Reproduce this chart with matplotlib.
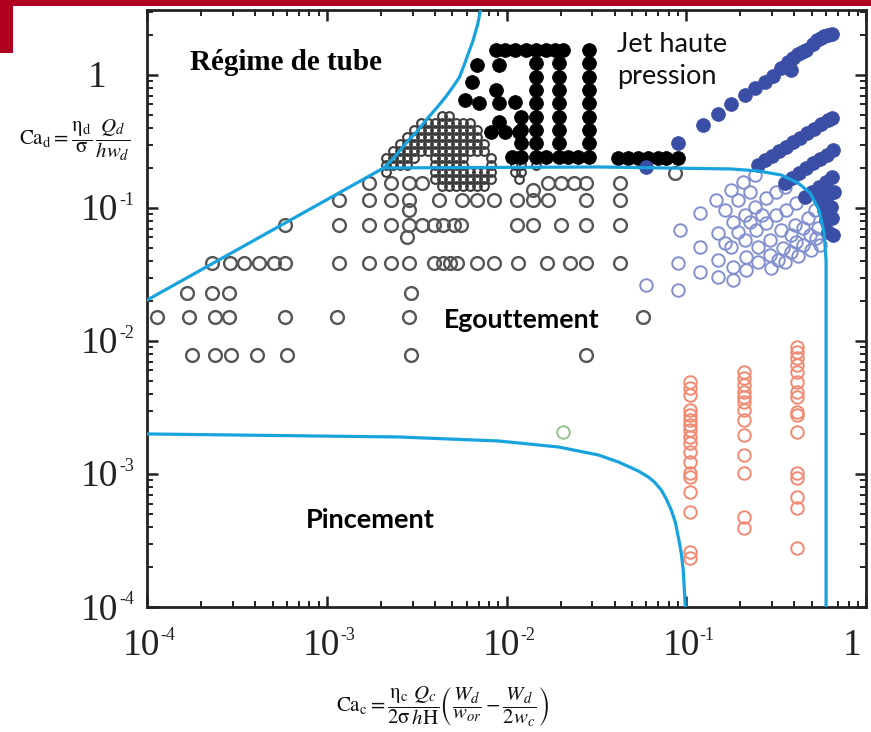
import matplotlib
matplotlib.use("Agg")
import matplotlib.pyplot as plt
from matplotlib.patches import Rectangle
from matplotlib.ticker import LogLocator, NullFormatter

plt.rcParams['mathtext.fontset'] = 'stix'

# ---------------- data ----------------
# Egouttement (dripping) - grey open circles, per row
drip_row_y = [0.154, 0.136, 0.115, 0.0966, 0.0745, 0.0605, 0.0386, 0.023, 0.0151, 0.00785, 0.1833]
drip_row_x = [
    [1.71e-3, 2.27e-3, 2.86e-3, 3.37e-3, 1.71e-2, 2.0e-2, 2.36e-2, 2.78e-2, 4.3e-2],
    [1.41e-2],
    [1.17e-3, 1.71e-3, 2.27e-3, 2.86e-3, 4.19e-3, 5.62e-3, 6.81e-3, 8.47e-3, 1.14e-2, 1.41e-2, 1.71e-2, 2.78e-2, 4.3e-2],
    [2.86e-3],
    [5.85e-4, 1.17e-3, 1.71e-3, 2.27e-3, 2.86e-3, 3.37e-3, 3.93e-3, 4.45e-3, 5.1e-3, 5.6e-3, 1.14e-2, 1.41e-2, 2.0e-2, 2.78e-2, 4.3e-2],
    [2.8e-3],
    [2.3e-4, 2.9e-4, 3.46e-4, 4.19e-4, 5.08e-4, 5.85e-4, 1.17e-3, 1.71e-3, 2.27e-3, 2.86e-3, 3.93e-3, 4.45e-3, 4.85e-3, 5.3e-3, 6.81e-3, 8.47e-3, 1.16e-2, 1.69e-2, 2.27e-2, 2.78e-2, 4.3e-2],
    [1.67e-4, 2.3e-4, 2.86e-4, 2.93e-3],
    [1.14e-4, 1.71e-4, 2.39e-4, 2.86e-4, 5.85e-4, 1.14e-3, 2.86e-3, 5.77e-2],
    [1.78e-4, 2.39e-4, 2.93e-4, 4.08e-4, 6.0e-4, 2.93e-3, 2.78e-2],
    [8.69e-2],
]

# dense overlapping open circles (transition cluster), per row
dense_row_y = [0.492, 0.435, 0.385, 0.342, 0.303, 0.268, 0.238, 0.210, 0.187, 0.165, 0.146]
dense_row_x = [
    [4.35e-3, 4.76e-3],
    [3.33e-3, 3.64e-3, 3.98e-3, 4.35e-3, 4.76e-3, 5.21e-3, 5.70e-3, 6.23e-3],
    [3.04e-3, 3.33e-3, 3.64e-3, 3.98e-3, 4.35e-3, 4.76e-3, 5.21e-3, 5.70e-3, 6.23e-3, 6.81e-3],
    [2.78e-3, 3.04e-3, 3.33e-3, 3.64e-3, 3.98e-3, 4.35e-3, 4.76e-3, 5.21e-3, 5.70e-3, 6.23e-3, 6.81e-3],
    [2.55e-3, 2.78e-3, 3.04e-3, 3.33e-3, 3.64e-3, 3.98e-3, 4.35e-3, 4.76e-3, 5.21e-3, 5.70e-3, 6.23e-3, 6.81e-3, 7.45e-3],
    [2.33e-3, 2.55e-3, 2.78e-3, 3.04e-3, 3.33e-3, 3.64e-3, 3.98e-3, 4.35e-3, 4.76e-3, 5.21e-3, 5.70e-3, 6.23e-3, 6.81e-3, 7.45e-3],
    [2.13e-3, 2.33e-3, 2.55e-3, 2.78e-3, 3.04e-3, 3.98e-3, 4.35e-3, 4.76e-3, 5.21e-3, 5.70e-3, 8.15e-3, 1.12e-2, 1.21e-2],
    [2.13e-3, 2.33e-3, 2.55e-3, 2.78e-3, 3.98e-3, 4.35e-3, 4.76e-3, 5.21e-3, 5.70e-3, 8.15e-3, 1.12e-2, 1.21e-2, 1.45e-2],
    [2.13e-3, 3.98e-3, 4.35e-3, 4.76e-3, 5.21e-3, 5.70e-3, 6.23e-3, 6.81e-3, 7.45e-3, 8.15e-3, 1.12e-2, 1.21e-2],
    [3.98e-3, 4.35e-3, 4.76e-3, 5.21e-3, 5.70e-3, 6.23e-3, 6.81e-3, 7.45e-3, 8.15e-3, 1.17e-2],
    [4.35e-3, 4.76e-3, 5.21e-3, 5.70e-3, 6.23e-3, 6.81e-3, 7.45e-3],
]

# Jet (black filled circles)
jet_black_x = [8.69e-3, 9.87e-3, 1.12e-2, 1.28e-2, 1.45e-2, 1.65e-2, 1.87e-2, 2.07e-2, 2.86e-2,
               1.45e-2, 1.45e-2, 1.45e-2, 1.45e-2, 1.45e-2, 1.45e-2, 1.45e-2,
               1.95e-2, 1.95e-2, 1.95e-2, 1.95e-2, 1.95e-2, 1.95e-2, 1.95e-2,
               2.86e-2, 2.86e-2, 2.86e-2, 2.86e-2, 2.86e-2, 2.86e-2, 2.86e-2,
               1.21e-2, 1.21e-2, 1.21e-2,
               6.81e-3, 6.39e-3, 5.84e-3, 6.99e-3, 8.69e-3, 9.03e-3, 9.03e-3, 1.12e-2, 9.03e-3, 8.25e-3, 9.87e-3, 1.17e-2,
               1.07e-2, 1.21e-2, 1.45e-2, 1.65e-2, 1.95e-2, 2.21e-2, 2.51e-2, 2.86e-2,
               4.19e-2, 4.77e-2, 5.41e-2, 6.15e-2, 6.99e-2, 7.74e-2, 9.03e-2]
jet_black_y = [1.54, 1.54, 1.54, 1.54, 1.54, 1.54, 1.54, 1.54, 1.54,
               1.23, 0.966, 0.771, 0.615, 0.483, 0.385, 0.308,
               1.23, 0.966, 0.771, 0.615, 0.483, 0.385, 0.308,
               1.23, 0.966, 0.771, 0.615, 0.483, 0.385, 0.308,
               0.483, 0.385, 0.308,
               1.19, 0.885, 0.649, 0.615, 0.771, 0.615, 1.19, 0.627, 0.443, 0.373, 0.373, 0.373,
               0.241, 0.241, 0.241, 0.241, 0.241, 0.241, 0.241, 0.241,
               0.238, 0.238, 0.238, 0.238, 0.238, 0.238, 0.238]

# Jet (blue filled circles)
jet_blue_x = [0.0599, 0.0903, 0.1243, 0.1506, 0.1778, 0.2127, 0.2417, 0.2748, 0.3044, 0.3371, 0.3831,
              0.3686, 0.393, 0.419, 0.441, 0.4642, 0.5076, 0.534, 0.5623, 0.5843, 0.615, 0.6473,
              0.2512, 0.2748, 0.3005, 0.3286, 0.3594, 0.393, 0.4299, 0.4701, 0.5142, 0.5623, 0.615, 0.6473,
              0.3548, 0.388, 0.4244, 0.4642, 0.5076, 0.5553, 0.6072, 0.6556,
              0.4583, 0.5012, 0.5482, 0.5995, 0.6473,
              0.5553, 0.615, 0.6641, 0.5843, 0.6391, 0.5995, 0.6473, 0.615, 0.6556]
jet_blue_y = [0.2034, 0.308, 0.421, 0.509, 0.605, 0.707, 0.799, 0.886, 0.983, 1.129, 1.090,
              1.252, 1.342, 1.439, 1.489, 1.542, 1.711, 1.833, 1.897, 1.965, 2.00, 2.034,
              0.2105, 0.2296, 0.246, 0.268, 0.2875, 0.313, 0.336, 0.366, 0.393, 0.428, 0.459, 0.475,
              0.1542, 0.1681, 0.1833, 0.200, 0.218, 0.2335, 0.250, 0.273,
              0.121, 0.1319, 0.1438, 0.1568, 0.171,
              0.1149, 0.1252, 0.1319, 0.0966, 0.1017, 0.0813, 0.0841, 0.066, 0.0627]

# Dripping (blue open circles)
drip_blue_x = [0.0599, 0.0903, 0.0903, 0.0926, 0.1196, 0.1196, 0.1196, 0.1468, 0.1506, 0.1506, 0.1506,
               0.1778, 0.1825, 0.1778, 0.1825, 0.1825, 0.2073, 0.2127, 0.2127, 0.2154, 0.2154,
               0.2417, 0.2417, 0.2448, 0.2512, 0.2512, 0.2783, 0.2783, 0.2929, 0.2929, 0.2967,
               0.3162, 0.3162, 0.3371, 0.3458, 0.3548, 0.3548, 0.3594, 0.4032, 0.4084, 0.419, 0.4084,
               0.4762, 0.4885, 0.4948, 0.5208, 0.5412, 0.5553,
               0.1647, 0.1945, 0.2268, 0.1647, 0.1945, 0.2268, 0.2644, 0.3831, 0.4467, 0.4467, 0.5275,
               0.3831, 0.3244]
drip_blue_y = [0.0264, 0.0242, 0.0386, 0.0683, 0.0917, 0.0509, 0.0330, 0.1149, 0.0649, 0.0406, 0.0303,
               0.1366, 0.0785, 0.0509, 0.0360, 0.0287, 0.1568, 0.0886, 0.0575, 0.0428, 0.0342,
               0.1771, 0.1017, 0.0683, 0.0509, 0.0393, 0.1189, 0.0771, 0.0575, 0.0443, 0.0354,
               0.1319, 0.0886, 0.0683, 0.0500, 0.0393, 0.1438, 0.0966, 0.0745, 0.0555, 0.0436, 0.1090,
               0.0841, 0.0627, 0.0483, 0.0966, 0.0707, 0.0527,
               0.0966, 0.1149, 0.1319, 0.0546, 0.0660, 0.0785, 0.0886, 0.0627, 0.0527, 0.0707, 0.0595,
               0.0467, 0.0406]

# Pinching-side points (red open circles), per column
red_col_x = [0.105, 0.21, 0.414]
red_col_y = [
    [4.92e-3, 4.44e-3, 3.93e-3, 3.03e-3, 2.78e-3, 2.55e-3, 2.33e-3, 2.14e-3, 1.90e-3, 1.71e-3,
     1.46e-3, 1.23e-3, 1.02e-3, 9.48e-4, 7.33e-4, 5.18e-4, 2.60e-4, 2.33e-4],
    [5.85e-3, 5.28e-3, 4.67e-3, 4.14e-3, 3.79e-3, 3.48e-3, 3.03e-3, 2.55e-3, 1.96e-3, 1.39e-3,
     1.02e-3, 4.75e-4, 3.93e-4],
    [9.02e-3, 8.26e-3, 7.45e-3, 6.61e-3, 5.85e-3, 4.92e-3, 4.14e-3, 3.79e-3, 2.92e-3, 2.78e-3,
     2.07e-3, 1.02e-3, 9.33e-4, 6.71e-4, 5.54e-4, 2.78e-4],
]

green_x = [2.07e-2]
green_y = [2.07e-3]

# regime boundaries
tube_x = [1e-4, 2.074e-3, 2.387e-3, 2.854e-3, 3.162e-3, 3.688e-3, 4.084e-3, 4.584e-3, 5.076e-3,
          5.48e-3, 5.843e-3, 6.23e-3, 6.475e-3, 6.90e-3, 7.17e-3]
tube_y = [0.0203, 0.200, 0.2418, 0.3246, 0.3727, 0.4833, 0.5649, 0.6834, 0.8268,
          0.966, 1.2097, 1.542, 1.770, 2.376, 3.08]
jet_bx = [2.074e-3, 0.03245, 0.1778, 0.2512, 0.3371, 0.419, 0.4885, 0.5482, 0.5843, 0.5995, 0.5995]
jet_by = [0.200, 0.2034, 0.1965, 0.1898, 0.1771, 0.1542, 0.1297, 0.0966, 0.0649, 0.0406, 1e-4]
pinch_x = [1e-4, 2.512e-3, 9.03e-3, 1.945e-2, 0.03245, 0.0419, 0.0541, 0.0615, 0.06644, 0.0726,
           0.07743, 0.0825, 0.08687, 0.0903, 0.0938, 0.0962, 0.0988]
pinch_y = [2.0e-3, 1.898e-3, 1.771e-3, 1.596e-3, 1.39e-3, 1.231e-3, 1.053e-3, 9.49e-4, 8.71e-4, 7.58e-4,
           6.49e-4, 5.36e-4, 4.36e-4, 3.36e-4, 2.547e-4, 1.898e-4, 1e-4]

tick_vals = [1e-4, 1e-3, 1e-2, 1e-1, 1]
tick_base = ['10', '10', '10', '10', '1']
tick_exp = ['-4', '-3', '-2', '-1', '']

# ---------------- figure ----------------
W, H = 871, 732
PT = 0.72  # points per pixel at dpi 100
fig = plt.figure(figsize=(W / 100, H / 100), dpi=100)
ax = fig.add_axes([147 / W, 1 - 607 / H, (866 - 147) / W, (607 - 10) / H])
ax.set_xscale('log')
ax.set_yscale('log')

GREY = '#555555'
dx, dy = [], []
for yv, xs in zip(drip_row_y, drip_row_x):
    dx += xs
    dy += [yv] * len(xs)
ax.plot(dx, dy, 'o', ls='none', ms=9.2, mfc='none', mec=GREY, mew=1.7, zorder=2)

cx, cy = [], []
for yv, xs in zip(dense_row_y, dense_row_x):
    cx += xs
    cy += [yv] * len(xs)
ax.plot(cx, cy, 'o', ls='none', ms=6.3, mfc='none', mec='#3c3c3c', mew=1.5, zorder=2)

ax.plot(jet_black_x, jet_black_y, 'o', ls='none', ms=10, mfc='black', mec='black', mew=0.5, zorder=3)
ax.plot(drip_blue_x, drip_blue_y, 'o', ls='none', ms=9, mfc='none', mec='#8390cf', mew=1.4, zorder=3)
ax.plot(jet_blue_x, jet_blue_y, 'o', ls='none', ms=10, mfc='#3b4ea6', mec='#3b4ea6', mew=0.5, zorder=4)

rx, ry = [], []
for xv, ys in zip(red_col_x, red_col_y):
    rx += [xv] * len(ys)
    ry += ys
ax.plot(rx, ry, 'o', ls='none', ms=9, mfc='none', mec='#f28a72', mew=1.4, zorder=3)
ax.plot(green_x, green_y, 'o', ls='none', ms=9, mfc='none', mec='#93c389', mew=1.4, zorder=3)

LINE = '#18a3df'
for xs, ys in [(tube_x, tube_y), (jet_bx, jet_by), (pinch_x, pinch_y)]:
    ax.plot(xs, ys, color=LINE, lw=2.3, zorder=5, solid_joinstyle='round')

ax.set_xlim(1e-4, 1.0)
ax.set_ylim(1e-4, 3.08)
ax.set_xticks(tick_vals)
ax.set_yticks(tick_vals)
ax.xaxis.set_minor_locator(LogLocator(base=10, subs=range(2, 10), numticks=20))
ax.yaxis.set_minor_locator(LogLocator(base=10, subs=range(2, 10), numticks=20))
ax.xaxis.set_minor_formatter(NullFormatter())
ax.yaxis.set_minor_formatter(NullFormatter())
ax.tick_params(which='both', direction='in', top=True, right=True, color='#222222',
               labelbottom=False, labelleft=False)
ax.tick_params(which='major', length=8, width=1.8)
ax.tick_params(which='minor', length=4.5, width=1.4)
for sp in ax.spines.values():
    sp.set_linewidth(2)
    sp.set_color('#222222')

# tick labels (serif "10" with small raised exponent)
LBL = dict(family='Liberation Serif', color='#222222')
for v, b, e in zip(tick_vals, tick_base, tick_exp):
    if e:
        ax.annotate(b, xy=(v, 0), xycoords=('data', 'axes fraction'),
                    xytext=(13.5 * PT, -48 * PT), textcoords='offset points',
                    ha='right', va='baseline', fontsize=27, **LBL)
        ax.annotate(e, xy=(v, 0), xycoords=('data', 'axes fraction'),
                    xytext=(13.5 * PT, -33 * PT), textcoords='offset points',
                    ha='left', va='baseline', fontsize=13, **LBL)
        ax.annotate(b, xy=(0, v), xycoords=('axes fraction', 'data'),
                    xytext=(-29 * PT, -12.5 * PT), textcoords='offset points',
                    ha='right', va='baseline', fontsize=27, **LBL)
        ax.annotate(e, xy=(0, v), xycoords=('axes fraction', 'data'),
                    xytext=(-28 * PT, 2.5 * PT), textcoords='offset points',
                    ha='left', va='baseline', fontsize=13, **LBL)
    else:
        ax.annotate(b, xy=(v, 0), xycoords=('data', 'axes fraction'),
                    xytext=(-14 * PT, -48 * PT), textcoords='offset points',
                    ha='center', va='baseline', fontsize=27, **LBL)
        ax.annotate(b, xy=(0, v), xycoords=('axes fraction', 'data'),
                    xytext=(-50 * PT, -12.5 * PT), textcoords='offset points',
                    ha='center', va='baseline', fontsize=27, **LBL)

# top banner
fig.add_artist(Rectangle((0, 1 - 6 / H), 1, 6 / H, transform=fig.transFigure, color='#b00020', lw=0))
fig.add_artist(Rectangle((0, 1 - 53 / H), 13 / W, 53 / H, transform=fig.transFigure, color='#b00020', lw=0))

def fx(px):
    return px / W

def fy(py):
    return 1 - py / H

fig.text(fx(286), fy(63), 'Régime de tube', ha='center', va='center',
         family='Liberation Serif', weight='bold', fontsize=21, color='black')
fig.text(fx(617), fy(52), 'Jet haute', ha='left', va='baseline',
         family='Lato', fontsize=19.5, color='#111111')
fig.text(fx(617), fy(84), 'pression', ha='left', va='baseline',
         family='Lato', fontsize=19.5, color='#111111')
fig.text(fx(522), fy(328), 'Egouttement', ha='center', va='baseline',
         family='Lato', weight='bold', fontsize=19.2, color='black')
fig.text(fx(370), fy(528), 'Pincement', ha='center', va='baseline',
         family='Lato', weight='bold', fontsize=19.5, color='black')

fig.text(fx(75), fy(140),
         r'$\mathrm{Ca_d} = \dfrac{\mathrm{\eta_d}}{\mathrm{\sigma}}\,\dfrac{Q_d}{hw_d}$',
         ha='center', va='center', fontsize=15, color='#111111')
fig.text(fx(443), fy(707),
         r'$\mathrm{Ca_c} = \dfrac{\mathrm{\eta_c}}{2\mathrm{\sigma}}\dfrac{Q_c}{h\mathrm{H}}\left(\dfrac{W_d}{w_{or}} - \dfrac{W_d}{2w_c}\right)$',
         ha='center', va='center', fontsize=15, color='#111111')

fig.savefig('out.png', dpi=100, facecolor='white')
